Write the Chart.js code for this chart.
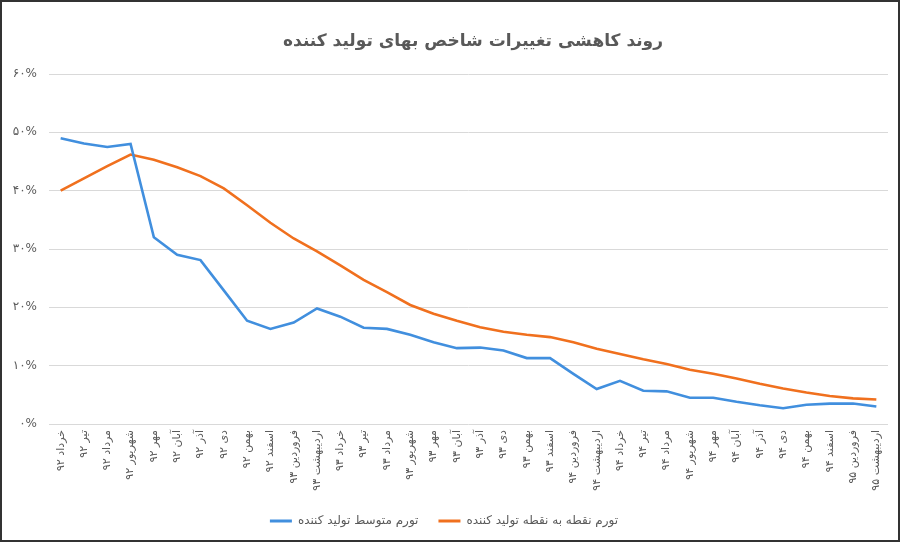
<!DOCTYPE html>
<html>
<head>
<meta charset="utf-8">
<script src="https://cdn.jsdelivr.net/npm/chart.js@4"></script>
<style>
    body { margin: 0; background: #fff; }
    #wrap { position: relative; width: 900px; height: 542px; }
    #frame { position: absolute; left: 0; top: 0; width: 900px; height: 542px; box-sizing: border-box; border: 2px solid #333; pointer-events: none; }
</style>
</head>
<body>
<div id="wrap">
    <canvas id="line-chart" width="900" height="542"></canvas>
    <div id="frame"></div>
</div>
<script>
// ماه ها
const months = [
    'خرداد ۹۲','تیر ۹۲','مرداد ۹۲','شهریور ۹۲','مهر ۹۲','آبان ۹۲','آذر ۹۲','دی ۹۲','بهمن ۹۲','اسفند ۹۲',
    'فروردین ۹۳','اردیبهشت ۹۳','خرداد ۹۳','تیر ۹۳','مرداد ۹۳','شهریور ۹۳','مهر ۹۳','آبان ۹۳','آذر ۹۳','دی ۹۳',
    'بهمن ۹۳','اسفند ۹۳','فروردین ۹۴','اردیبهشت ۹۴','خرداد ۹۴','تیر ۹۴','مرداد ۹۴','شهریور ۹۴','مهر ۹۴','آبان ۹۴',
    'آذر ۹۴','دی ۹۴','بهمن ۹۴','اسفند ۹۴','فروردین ۹۵','اردیبهشت ۹۵'
];
// تورم متوسط
const avgInflation = [
    49.0, 48.1, 47.5, 48.0, 32.0, 29.0, 28.1, 22.9, 17.7, 16.3,
    17.4, 19.8, 18.4, 16.5, 16.3, 15.3, 14.0, 13.0, 13.1, 12.6,
    11.3, 11.3, 8.6, 6.0, 7.4, 5.7, 5.6, 4.5, 4.5, 3.8,
    3.2, 2.7, 3.3, 3.5, 3.5, 3.0
];
// تورم نقطه به نقطه
const p2pInflation = [
    40.0, 42.1, 44.2, 46.2, 45.3, 44.0, 42.5, 40.4, 37.5, 34.5,
    31.8, 29.6, 27.2, 24.7, 22.6, 20.4, 18.9, 17.7, 16.6, 15.8,
    15.3, 14.9, 14.0, 12.9, 12.0, 11.1, 10.3, 9.3, 8.6, 7.8,
    6.9, 6.1, 5.4, 4.8, 4.4, 4.2
];
const yTickLabels = ['۰%','۱۰%','۲۰%','۳۰%','۴۰%','۵۰%','۶۰%'];
const titleText = 'روند کاهشی تغییرات شاخص بهای تولید کننده';

const textColor = '#595959';
const fontName = "'DejaVu Sans', sans-serif";

// عنوان کمی به راست (مثل اکسل)
const titlePlugin = {
    id: 'excelTitle',
    afterDraw(chart) {
        const ctx = chart.ctx;
        ctx.save();
        ctx.font = 'bold 17px ' + fontName;
        ctx.fillStyle = textColor;
        ctx.textAlign = 'center';
        ctx.textBaseline = 'middle';
        ctx.direction = 'rtl';
        ctx.fillText(titleText, 473, 42);
        ctx.restore();
    }
};

const data = {
    labels: months,
    datasets: [
        {
            label: 'تورم متوسط تولید کننده',
            data: avgInflation,
            borderColor: '#418FDE',
            backgroundColor: '#418FDE',
            borderWidth: 2.6,
            pointRadius: 0,
            tension: 0
        },
        {
            label: 'تورم نقطه به نقطه تولید کننده',
            data: p2pInflation,
            borderColor: '#F0701E',
            backgroundColor: '#F0701E',
            borderWidth: 2.6,
            pointRadius: 0,
            tension: 0
        }
    ]
};

const config = {
    type: 'line',
    data: data,
    options: {
        responsive: false,
        animation: false,
        layout: { padding: { left: 0, right: 12, top: 74, bottom: 5 } },
        plugins: {
            title: { display: false },
            legend: {
                position: 'bottom',
                labels: {
                    color: textColor,
                    font: { family: fontName, size: 12 },
                    boxWidth: 22,
                    boxHeight: 3,
                    padding: 20,
                    generateLabels: function (chart) {
                        const items = Chart.defaults.plugins.legend.labels.generateLabels(chart);
                        items.forEach(it => { it.lineWidth = 0; });
                        return items;
                    }
                }
            },
            tooltip: { enabled: false }
        },
        scales: {
            x: {
                offset: true,
                grid: { display: false, drawTicks: false },
                border: { display: false },
                ticks: {
                    color: textColor,
                    font: { family: fontName, size: 11 },
                    minRotation: 90,
                    maxRotation: 90,
                    autoSkip: false,
                    padding: 6
                },
                afterFit: function (scale) { scale.height = 71; }
            },
            y: {
                min: 0,
                max: 60,
                grid: { color: '#d9d9d9', lineWidth: 1, drawTicks: false },
                border: { display: false },
                ticks: {
                    stepSize: 10,
                    color: textColor,
                    font: { family: fontName, size: 12 },
                    padding: 12,
                    callback: function (value) { return yTickLabels[Math.round(value / 10)]; }
                },
                afterFit: function (scale) { scale.width = 49; }
            }
        }
    },
    plugins: [titlePlugin]
};

var myChart = new Chart(document.getElementById('line-chart'), config);
</script>
</body>
</html>
